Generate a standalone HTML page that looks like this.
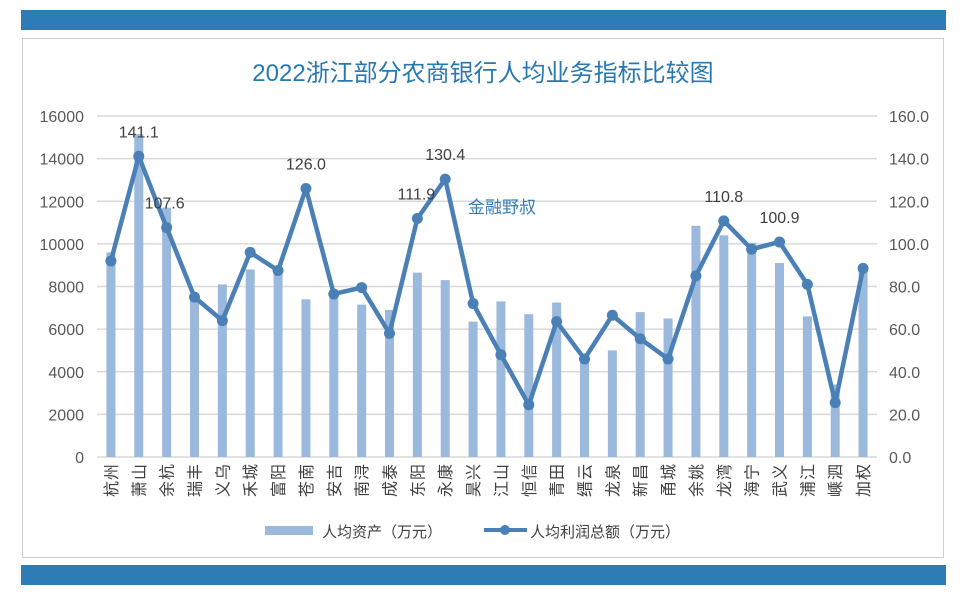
<!DOCTYPE html>
<html><head><meta charset="utf-8"><style>
body{margin:0;width:967px;height:601px;background:#fff;overflow:hidden;font-family:"Liberation Sans","Noto Sans CJK SC",sans-serif}
</style></head><body>
<svg width="967" height="601" xmlns="http://www.w3.org/2000/svg">
<rect x="21" y="10" width="925" height="20" fill="#2e7cb6"/>
<rect x="21" y="565" width="925" height="20" fill="#2e7cb6"/>
<rect x="22.5" y="38.5" width="921" height="519" fill="#fff" stroke="#d0d0d0"/>
<text x="483" y="81" text-anchor="middle" font-size="24" fill="#2a78b0" font-family="Liberation Sans,Noto Sans CJK SC,sans-serif">2022浙江部分农商银行人均业务指标比较图</text>
<g id="grid"></g><g id="bars"></g><g id="line"></g><g id="labels"></g>
<text x="502" y="213" text-anchor="middle" font-size="17" fill="#3a7db5">金融野叔</text>
<g>
<rect x="265" y="526" width="48" height="9" fill="#9bb9dc"/>
<text x="322" y="537" font-size="15" fill="#404040">人均资产（万元）</text>
<line x1="484" y1="530" x2="527" y2="530" stroke="#4a80b5" stroke-width="4"/>
<circle cx="505" cy="530" r="5" fill="#4a80b5"/>
<text x="530" y="537" font-size="15" fill="#404040">人均利润总额（万元）</text>
</g>
</svg>
<script>
const categories=["杭州","萧山","余杭","瑞丰","义乌","禾城","富阳","苍南","安吉","南浔","成泰","东阳","永康","昊兴","江山","恒信","青田","缙云","龙泉","新昌","甬城","余姚","龙湾","海宁","武义","浦江","嵊泗","加权"];
const assets=[9600,15150,11700,7600,8100,8800,8700,7400,7600,7150,6900,8650,8300,6350,7300,6700,7250,4800,5000,6800,6500,10850,10400,10050,9100,6600,3400,8800];
const profit=[92,141.1,107.6,75,64,96,87.5,126.0,76.5,79.5,58,111.9,130.4,72,48,24.5,63.5,46,66.5,55.5,46,85,110.8,97.5,100.9,81,25.5,88.5];
const labeled=[1,2,7,11,12,22,24];
const leftTicks=[0,2000,4000,6000,8000,10000,12000,14000,16000];
const rightTicks=["0.0","20.0","40.0","60.0","80.0","100.0","120.0","140.0","160.0"];
const NS="http://www.w3.org/2000/svg";
const x0=97,x1=877,yb=457,yt=116;
const yL=v=>yb-(v/16000)*(yb-yt);
const yR=v=>yb-(v/160)*(yb-yt);
const band=(x1-x0)/categories.length;
const xc=i=>x0+band*(i+0.5);
function mk(tag,attrs,parent){const e=document.createElementNS(NS,tag);for(const k in attrs)e.setAttribute(k,attrs[k]);document.getElementById(parent).appendChild(e);return e;}
leftTicks.forEach((t,i)=>{
 const y=yL(t);
 const g=mk('line',{x1:x0,x2:x1,y1:y,y2:y,stroke:'#d9d9d9','stroke-width':1.5},'grid');
 
 
 const a=mk('text',{x:84,y:y+6,'text-anchor':'end','font-size':16,fill:'#595959'},'grid');a.textContent=t;
 
 
 const b=mk('text',{x:889,y:y+6,'font-size':16,fill:'#595959'},'grid');b.textContent=rightTicks[i];
 
 
});
categories.forEach((c,i)=>{
 const r=mk('rect',{x:xc(i)-4.5,y:yL(assets[i]),width:9,height:yb-yL(assets[i]),fill:'#9bb9dc'},'bars');
 
 
 const t=mk('text',{x:0,y:0,'font-size':16,fill:'#404040','text-anchor':'end',transform:'translate('+(xc(i)+6)+',463) rotate(-90)','letter-spacing':1},'labels');
 t.textContent=c;
 
 
});
const pts=profit.map((v,i)=>xc(i)+','+yR(v)).join(' ');
const pl=mk('polyline',{points:pts,fill:'none',stroke:'#4a80b5','stroke-width':4.5,'stroke-linejoin':'round'},'line');


profit.forEach((v,i)=>{
 const c=mk('circle',{cx:xc(i),cy:yR(v),r:5.5,fill:'#4a80b5'},'line');
 
 
});
labeled.forEach(i=>{
 const t=mk('text',{x:xc(i)+(i===2?-2:(i===11?-1:0)),y:yR(profit[i])-19,'text-anchor':'middle','font-size':16,fill:'#404040'},'labels');
 t.textContent=profit[i].toFixed(1);
 
 
});
</script>
</body></html>
